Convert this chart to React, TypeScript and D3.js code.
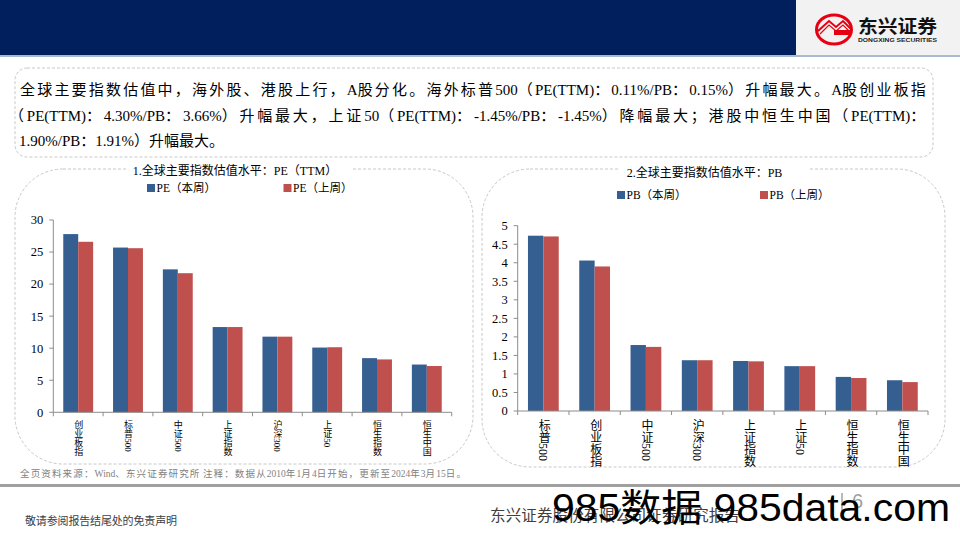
import React, { useLayoutEffect, useRef, useState } from 'react';
import * as d3 from 'd3';

const peCategories = ['创业板指', '标普500', '中证500', '上证指数', '沪深300', '上证50', '恒生指数', '恒生中国'];
const peThisWeek = [27.8, 25.7, 22.3, 13.3, 11.8, 10.1, 8.45, 7.45];
const peLastWeek = [26.6, 25.6, 21.7, 13.3, 11.8, 10.15, 8.25, 7.22];
const peTicks = [0, 5, 10, 15, 20, 25, 30];

const pbCategories = ['标普500', '创业板指', '中证500', '沪深300', '上证指数', '上证50', '恒生指数', '恒生中国'];
const pbThisWeek = [4.73, 4.06, 1.78, 1.37, 1.35, 1.21, 0.92, 0.83];
const pbLastWeek = [4.71, 3.9, 1.73, 1.37, 1.34, 1.21, 0.89, 0.78];
const pbTicks = [0, 0.5, 1, 1.5, 2, 2.5, 3, 3.5, 4, 4.5, 5];

const seriesKeys = ['本周', '上周'];
const BLUE = '#365F91';
const RED = '#C0504D';
const SERIF = "'Liberation Serif', 'Noto Sans CJK SC', serif";
const SANS = "'Liberation Sans', 'Noto Sans CJK SC', sans-serif";

const summaryLines = [
  '全球主要指数估值中，海外股、港股上行，A股分化。海外标普500（PE(TTM)：0.11%/PB：0.15%）升幅最大。A股创业板指',
  '（PE(TTM)：4.30%/PB：3.66%）升幅最大，上证50（PE(TTM)：-1.45%/PB：-1.45%）降幅最大；港股中恒生中国（PE(TTM)：',
  '1.90%/PB：1.91%）升幅最大。',
];
const sourceNote = '全页资料来源：Wind、东兴证券研究所 注释：数据从2010年1月4日开始，更新至2024年3月15日。';

const CJK_RE = /[\u3000-\u303F\u4E00-\u9FFF\uFF00-\uFFEF]+|[^\u3000-\u303F\u4E00-\u9FFF\uFF00-\uFFEF]+/g;
const isCJK = (s: string) => /[\u3000-\u303F\u4E00-\u9FFF\uFF00-\uFFEF]/.test(s);

// Justified text: extra spacing goes only to CJK characters (Latin runs stay compact)
function JText({ x, y, width, fontSize, fill, text }: { x: number; y: number; width?: number; fontSize: number; fill: string; text: string }) {
  const ref = useRef<SVGTextElement>(null);
  const [sp, setSp] = useState(0);
  const runs = text.match(CJK_RE) || [];
  const nCJK = runs.filter(isCJK).reduce((a, r) => a + r.length, 0);
  useLayoutEffect(() => {
    if (ref.current && width) {
      const L = ref.current.getComputedTextLength();
      setSp(Math.max(0, (width - L) / Math.max(1, nCJK)));
    }
  }, [width, text]);
  return (
    <g fontFamily={SERIF} fontSize={fontSize}>
      <text ref={ref} x={x} y={y} visibility="hidden">{text}</text>
      <text x={x} y={y} fill={fill}>
        {runs.map((r, i) => (
          <tspan key={i} letterSpacing={isCJK(r) ? sp : 0}>{r}</tspan>
        ))}
      </text>
    </g>
  );
}

type ChartProps = {
  categories: string[];
  a: number[];
  b: number[];
  ticks: number[];
  max: number;
  x0: number;
  x1: number;
  y0: number;
  y1: number;
  labelSize: number;
  tickFmt: (v: number) => string;
};

function BarChart(p: ChartProps) {
  const x = d3.scaleBand<string>().domain(p.categories).range([p.x0, p.x1]).paddingInner(0.4).paddingOuter(0.2);
  const inner = d3.scaleBand<string>().domain(seriesKeys).range([0, x.bandwidth()]);
  const y = d3.scaleLinear().domain([0, p.max]).range([p.y0, p.y1]);
  const step = x.step();
  const boundaries = d3.range(p.categories.length + 1).map((i) => p.x0 + i * step);
  return (
    <g>
      {p.categories.map((c, i) => (
        <g key={c}>
          <rect x={(x(c) as number) + (inner('本周') as number)} y={y(p.a[i])} width={inner.bandwidth()} height={p.y0 - y(p.a[i])} fill={BLUE} />
          <rect x={(x(c) as number) + (inner('上周') as number)} y={y(p.b[i])} width={inner.bandwidth()} height={p.y0 - y(p.b[i])} fill={RED} />
        </g>
      ))}
      <line x1={p.x0} x2={p.x0} y1={p.y0} y2={y(p.max)} stroke="#8C8C8C" strokeWidth={1} />
      {p.ticks.map((t) => (
        <g key={t}>
          <line x1={p.x0 - 4} x2={p.x0} y1={y(t)} y2={y(t)} stroke="#8C8C8C" />
          <text x={p.x0 - 10} y={y(t)} dy="0.35em" textAnchor="end" fontSize={12.5} fontFamily={SERIF} fill="#000">
            {p.tickFmt(t)}
          </text>
        </g>
      ))}
      <line x1={p.x0} x2={p.x1} y1={p.y0} y2={p.y0} stroke="#8C8C8C" strokeWidth={1} />
      {boundaries.map((bx, i) => (
        <line key={i} x1={bx} x2={bx} y1={p.y0} y2={p.y0 + 4} stroke="#8C8C8C" />
      ))}
      {p.categories.map((c) => (
        <text
          key={c}
          x={(x(c) as number) + x.bandwidth() / 2}
          y={p.y0 + 8}
          fontSize={p.labelSize}
          fontFamily={SERIF}
          fill="#000"
          style={{ writingMode: 'vertical-rl' as any }}
        >
          {c}
        </text>
      ))}
    </g>
  );
}

function Panel({ x, y, w, h, title, titleX, titleY, gap }: { x: number; y: number; w: number; h: number; title: string; titleX: number; titleY: number; gap: [number, number] }) {
  return (
    <g>
      <rect x={x} y={y} width={w} height={h} rx={48} ry={48} fill="none" stroke="#C8C8C8" strokeDasharray="3,2" />
      <rect x={gap[0]} y={y - 4} width={gap[1] - gap[0]} height={8} fill="#fff" />
      <text x={titleX} y={titleY} dy="0.38em" textAnchor="middle" fontSize={12} fontFamily={SERIF} fill="#000">
        {title}
      </text>
    </g>
  );
}

function Legend({ x1, x2, y, prefix }: { x1: number; x2: number; y: number; prefix: string }) {
  return (
    <g fontFamily={SERIF} fontSize={11.5} fill="#000">
      <rect x={x1} y={y - 4} width={8} height={8} fill={BLUE} />
      <text x={x1 + 9.5} y={y} dy="0.36em">{prefix}（本周）</text>
      <rect x={x2} y={y - 4} width={8} height={8} fill={RED} />
      <text x={x2 + 9.5} y={y} dy="0.36em">{prefix}（上周）</text>
    </g>
  );
}

export default function App() {
  return (
    <svg width={960} height={540} style={{ position: 'absolute', left: 0, top: 0, background: '#fff' }}>
      {/* header */}
      <rect x={0} y={0} width={960} height={56} fill="#F2F2F2" />
      <rect x={0} y={0} width={796} height={55} fill="#001F5C" />
      <rect x={0} y={55} width={960} height={2} fill="#A9B9D0" />
      <g>
        <ellipse cx={834} cy={29.5} rx={17.5} ry={14.5} fill="none" stroke="#E60012" strokeWidth={3} />
        <path d="M818,31 L829,21 L836,27 L843,21 L851,29" fill="none" stroke="#E60012" strokeWidth={2} />
        <path d="M820,34 L829,25 L836,31 L843,25 L849,31" fill="none" stroke="#E60012" strokeWidth={1.2} />
        <rect x={834} y={30} width={17} height={5} fill="#E60012" />
        <text x={858} y={33} fontSize={18.5} fontWeight="bold" fontFamily="'Noto Sans CJK SC', sans-serif" fill="#111" textLength={79} lengthAdjust="spacingAndGlyphs">东兴证券</text>
        <text x={858} y={41.5} fontSize={5.5} fontWeight="bold" fontFamily={SANS} fill="#222" textLength={79} lengthAdjust="spacingAndGlyphs">DONGXING SECURITIES</text>
      </g>

      {/* summary box */}
      <rect x={15} y={68} width={918} height={89} rx={12} ry={12} fill="none" stroke="#C8C8C8" strokeDasharray="3,2" />
      <JText x={20} y={95} width={908} fontSize={15} fill="#000" text={summaryLines[0]} />
      <JText x={9} y={120.5} width={919} fontSize={15} fill="#000" text={summaryLines[1]} />
      <JText x={19} y={146} fontSize={15} fill="#000" text={summaryLines[2]} />

      {/* left panel */}
      <Panel x={15} y={169} w={458} h={295} title="1.全球主要指数估值水平：PE（TTM）" titleX={235} titleY={170.5} gap={[128, 351]} />
      <Legend x1={147} x2={283.5} y={188} prefix="PE" />
      <BarChart
        categories={peCategories}
        a={peThisWeek}
        b={peLastWeek}
        ticks={peTicks}
        max={30}
        x0={53.3}
        x1={451.7}
        y0={412.3}
        y1={220}
        labelSize={9}
        tickFmt={(v) => String(v)}
      />

      {/* right panel */}
      <Panel x={482} y={169} w={463} h={298} title="2.全球主要指数估值水平：PB" titleX={704.5} titleY={172.5} gap={[618, 808]} />
      <Legend x1={617} x2={760} y={195} prefix="PB" />
      <BarChart
        categories={pbCategories}
        a={pbThisWeek}
        b={pbLastWeek}
        ticks={pbTicks}
        max={5}
        x0={517.7}
        x1={928}
        y0={411}
        y1={225.7}
        labelSize={12}
        tickFmt={(v) => String(v)}
      />

      {/* source */}
      <JText x={20} y={477} width={447} fontSize={9.5} fill="#7F7F7F" text={sourceNote} />
      <rect x={0} y={484} width={960} height={3} fill="#A0A0A0" />

      {/* footer */}
      <text x={25} y={525} fontSize={11} fontFamily={SERIF} fill="#404040" textLength={152} lengthAdjust="spacing">敬请参阅报告结尾处的免责声明</text>
      <text x={490} y={521} fontSize={15.5} fontFamily={SERIF} fill="#404040" textLength={250} lengthAdjust="spacing">东兴证券股份有限公司证券研究报告</text>
      <line x1={842} x2={842} y1={493} y2={512} stroke="#A0A0A0" strokeWidth={1.5} />
      <text x={852} y={508} fontSize={20} fontFamily={SANS} fill="#A0A0A0">6</text>
      <text x={552} y={521} fontSize={38} fontFamily={SANS} fill="#000" textLength={398} lengthAdjust="spacingAndGlyphs">985数据 985data.com</text>
    </svg>
  );
}
